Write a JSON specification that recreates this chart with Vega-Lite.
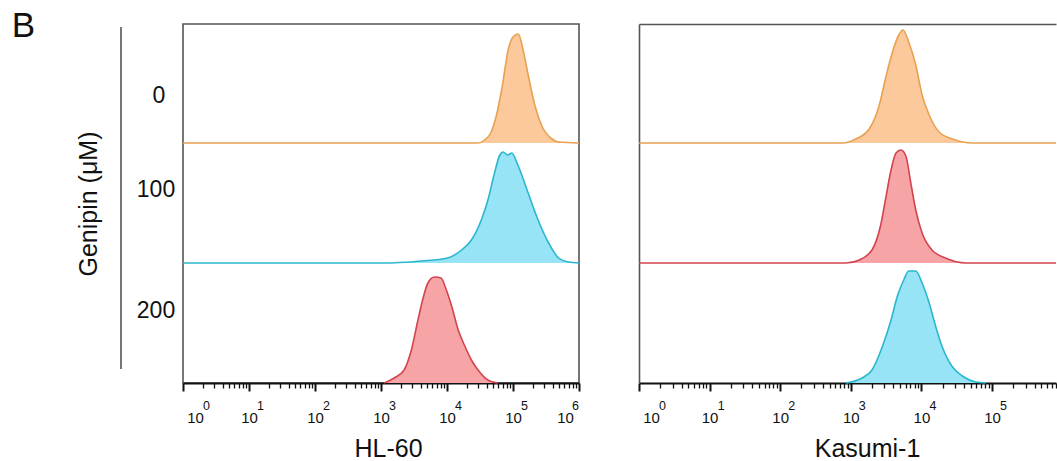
{
  "$schema": "https://vega.github.io/schema/vega-lite/v6.json",
  "background": "white",
  "padding": {"left": 0, "top": 8, "right": 0, "bottom": 0},
  "bounds": "flush",
  "spacing": 60,
  "config": {
    "view": {"stroke": "#555", "strokeWidth": 1.6},
    "text": {"font": "Liberation Sans", "color": "#111"}
  },
  "resolve": {"scale": {"fill": "independent", "stroke": "independent"}},
  "data": {"values": [
    {"cell": "HL-60", "dose": "0", "x": 1, "y": 240, "y0": 240},
    {"cell": "HL-60", "dose": "0", "x": 29510, "y": 240, "y0": 240},
    {"cell": "HL-60", "dose": "0", "x": 37150, "y": 243, "y0": 240},
    {"cell": "HL-60", "dose": "0", "x": 46770, "y": 251, "y0": 240},
    {"cell": "HL-60", "dose": "0", "x": 56230, "y": 268, "y0": 240},
    {"cell": "HL-60", "dose": "0", "x": 67610, "y": 294, "y0": 240},
    {"cell": "HL-60", "dose": "0", "x": 85110, "y": 334, "y0": 240},
    {"cell": "HL-60", "dose": "0", "x": 100000, "y": 346, "y0": 240},
    {"cell": "HL-60", "dose": "0", "x": 120200, "y": 349, "y0": 240},
    {"cell": "HL-60", "dose": "0", "x": 144500, "y": 331, "y0": 240},
    {"cell": "HL-60", "dose": "0", "x": 169800, "y": 308, "y0": 240},
    {"cell": "HL-60", "dose": "0", "x": 213800, "y": 278, "y0": 240},
    {"cell": "HL-60", "dose": "0", "x": 269200, "y": 258, "y0": 240},
    {"cell": "HL-60", "dose": "0", "x": 389000, "y": 244, "y0": 240},
    {"cell": "HL-60", "dose": "0", "x": 489800, "y": 241, "y0": 240},
    {"cell": "HL-60", "dose": "0", "x": 1000000, "y": 240, "y0": 240},

    {"cell": "HL-60", "dose": "100", "x": 1, "y": 120, "y0": 120},
    {"cell": "HL-60", "dose": "100", "x": 1000, "y": 120, "y0": 120},
    {"cell": "HL-60", "dose": "100", "x": 4074, "y": 122, "y0": 120},
    {"cell": "HL-60", "dose": "100", "x": 10230, "y": 125, "y0": 120},
    {"cell": "HL-60", "dose": "100", "x": 16600, "y": 133, "y0": 120},
    {"cell": "HL-60", "dose": "100", "x": 23440, "y": 143, "y0": 120},
    {"cell": "HL-60", "dose": "100", "x": 33110, "y": 163, "y0": 120},
    {"cell": "HL-60", "dose": "100", "x": 41690, "y": 183, "y0": 120},
    {"cell": "HL-60", "dose": "100", "x": 52480, "y": 210, "y0": 120},
    {"cell": "HL-60", "dose": "100", "x": 63100, "y": 228, "y0": 120},
    {"cell": "HL-60", "dose": "100", "x": 70790, "y": 231, "y0": 120},
    {"cell": "HL-60", "dose": "100", "x": 83180, "y": 228, "y0": 120},
    {"cell": "HL-60", "dose": "100", "x": 95500, "y": 230, "y0": 120},
    {"cell": "HL-60", "dose": "100", "x": 120200, "y": 217, "y0": 120},
    {"cell": "HL-60", "dose": "100", "x": 169800, "y": 190, "y0": 120},
    {"cell": "HL-60", "dose": "100", "x": 239900, "y": 163, "y0": 120},
    {"cell": "HL-60", "dose": "100", "x": 346700, "y": 140, "y0": 120},
    {"cell": "HL-60", "dose": "100", "x": 489800, "y": 125, "y0": 120},
    {"cell": "HL-60", "dose": "100", "x": 691800, "y": 121, "y0": 120},
    {"cell": "HL-60", "dose": "100", "x": 1000000, "y": 120, "y0": 120},

    {"cell": "HL-60", "dose": "200", "x": 1122, "y": 0, "y0": 0},
    {"cell": "HL-60", "dose": "200", "x": 1585, "y": 5, "y0": 0},
    {"cell": "HL-60", "dose": "200", "x": 2239, "y": 13, "y0": 0},
    {"cell": "HL-60", "dose": "200", "x": 2884, "y": 33, "y0": 0},
    {"cell": "HL-60", "dose": "200", "x": 3631, "y": 63, "y0": 0},
    {"cell": "HL-60", "dose": "200", "x": 4266, "y": 83, "y0": 0},
    {"cell": "HL-60", "dose": "200", "x": 5129, "y": 100, "y0": 0},
    {"cell": "HL-60", "dose": "200", "x": 6457, "y": 106, "y0": 0},
    {"cell": "HL-60", "dose": "200", "x": 8128, "y": 105, "y0": 0},
    {"cell": "HL-60", "dose": "200", "x": 9772, "y": 93, "y0": 0},
    {"cell": "HL-60", "dose": "200", "x": 11750, "y": 77, "y0": 0},
    {"cell": "HL-60", "dose": "200", "x": 14790, "y": 53, "y0": 0},
    {"cell": "HL-60", "dose": "200", "x": 18620, "y": 37, "y0": 0},
    {"cell": "HL-60", "dose": "200", "x": 23440, "y": 23, "y0": 0},
    {"cell": "HL-60", "dose": "200", "x": 29510, "y": 13, "y0": 0},
    {"cell": "HL-60", "dose": "200", "x": 41690, "y": 3, "y0": 0},
    {"cell": "HL-60", "dose": "200", "x": 58880, "y": 0, "y0": 0},

    {"cell": "Kasumi-1", "dose": "0", "x": 1, "y": 240, "y0": 240},
    {"cell": "Kasumi-1", "dose": "0", "x": 758.6, "y": 240, "y0": 240},
    {"cell": "Kasumi-1", "dose": "0", "x": 1175, "y": 244, "y0": 240},
    {"cell": "Kasumi-1", "dose": "0", "x": 1820, "y": 254, "y0": 240},
    {"cell": "Kasumi-1", "dose": "0", "x": 2512, "y": 277, "y0": 240},
    {"cell": "Kasumi-1", "dose": "0", "x": 3090, "y": 304, "y0": 240},
    {"cell": "Kasumi-1", "dose": "0", "x": 3890, "y": 331, "y0": 240},
    {"cell": "Kasumi-1", "dose": "0", "x": 4786, "y": 348, "y0": 240},
    {"cell": "Kasumi-1", "dose": "0", "x": 5495, "y": 353, "y0": 240},
    {"cell": "Kasumi-1", "dose": "0", "x": 6607, "y": 341, "y0": 240},
    {"cell": "Kasumi-1", "dose": "0", "x": 8318, "y": 318, "y0": 240},
    {"cell": "Kasumi-1", "dose": "0", "x": 10230, "y": 288, "y0": 240},
    {"cell": "Kasumi-1", "dose": "0", "x": 12880, "y": 268, "y0": 240},
    {"cell": "Kasumi-1", "dose": "0", "x": 17780, "y": 251, "y0": 240},
    {"cell": "Kasumi-1", "dose": "0", "x": 27540, "y": 244, "y0": 240},
    {"cell": "Kasumi-1", "dose": "0", "x": 52480, "y": 240, "y0": 240},
    {"cell": "Kasumi-1", "dose": "0", "x": 806000, "y": 240, "y0": 240},

    {"cell": "Kasumi-1", "dose": "100", "x": 1, "y": 120, "y0": 120},
    {"cell": "Kasumi-1", "dose": "100", "x": 851, "y": 120, "y0": 120},
    {"cell": "Kasumi-1", "dose": "100", "x": 1318, "y": 123, "y0": 120},
    {"cell": "Kasumi-1", "dose": "100", "x": 1995, "y": 133, "y0": 120},
    {"cell": "Kasumi-1", "dose": "100", "x": 2630, "y": 157, "y0": 120},
    {"cell": "Kasumi-1", "dose": "100", "x": 3090, "y": 183, "y0": 120},
    {"cell": "Kasumi-1", "dose": "100", "x": 3715, "y": 213, "y0": 120},
    {"cell": "Kasumi-1", "dose": "100", "x": 4365, "y": 230, "y0": 120},
    {"cell": "Kasumi-1", "dose": "100", "x": 5129, "y": 233, "y0": 120},
    {"cell": "Kasumi-1", "dose": "100", "x": 6026, "y": 227, "y0": 120},
    {"cell": "Kasumi-1", "dose": "100", "x": 7079, "y": 200, "y0": 120},
    {"cell": "Kasumi-1", "dose": "100", "x": 8318, "y": 173, "y0": 120},
    {"cell": "Kasumi-1", "dose": "100", "x": 10230, "y": 150, "y0": 120},
    {"cell": "Kasumi-1", "dose": "100", "x": 14130, "y": 133, "y0": 120},
    {"cell": "Kasumi-1", "dose": "100", "x": 21880, "y": 125, "y0": 120},
    {"cell": "Kasumi-1", "dose": "100", "x": 42660, "y": 120, "y0": 120},
    {"cell": "Kasumi-1", "dose": "100", "x": 806000, "y": 120, "y0": 120},

    {"cell": "Kasumi-1", "dose": "200", "x": 851, "y": 0, "y0": 0},
    {"cell": "Kasumi-1", "dose": "200", "x": 1445, "y": 5, "y0": 0},
    {"cell": "Kasumi-1", "dose": "200", "x": 1995, "y": 13, "y0": 0},
    {"cell": "Kasumi-1", "dose": "200", "x": 2818, "y": 37, "y0": 0},
    {"cell": "Kasumi-1", "dose": "200", "x": 3715, "y": 63, "y0": 0},
    {"cell": "Kasumi-1", "dose": "200", "x": 4571, "y": 87, "y0": 0},
    {"cell": "Kasumi-1", "dose": "200", "x": 5623, "y": 103, "y0": 0},
    {"cell": "Kasumi-1", "dose": "200", "x": 6607, "y": 112, "y0": 0},
    {"cell": "Kasumi-1", "dose": "200", "x": 8318, "y": 112, "y0": 0},
    {"cell": "Kasumi-1", "dose": "200", "x": 10230, "y": 100, "y0": 0},
    {"cell": "Kasumi-1", "dose": "200", "x": 12880, "y": 80, "y0": 0},
    {"cell": "Kasumi-1", "dose": "200", "x": 15850, "y": 57, "y0": 0},
    {"cell": "Kasumi-1", "dose": "200", "x": 19500, "y": 37, "y0": 0},
    {"cell": "Kasumi-1", "dose": "200", "x": 26920, "y": 17, "y0": 0},
    {"cell": "Kasumi-1", "dose": "200", "x": 38020, "y": 7, "y0": 0},
    {"cell": "Kasumi-1", "dose": "200", "x": 58880, "y": 1, "y0": 0},
    {"cell": "Kasumi-1", "dose": "200", "x": 81280, "y": 0, "y0": 0}
  ]},
  "hconcat": [
    {
      "width": 122,
      "height": 359,
      "view": {"stroke": "transparent"},
      "data": {"values": [{}]},
      "layer": [
        {"mark": {"type": "rule", "stroke": "#555", "strokeWidth": 1.6},
         "encoding": {
           "x": {"datum": 120, "type": "quantitative", "scale": {"domain": [0, 122], "nice": false, "zero": false}, "axis": null},
           "y": {"datum": 14, "type": "quantitative", "scale": {"domain": [0, 359], "nice": false, "zero": false}, "axis": null},
           "y2": {"datum": 356}
         }},
        {"mark": {"type": "text", "text": "B", "fontSize": 35, "align": "center", "baseline": "middle"},
         "encoding": {"x": {"datum": 22.5, "type": "quantitative"}, "y": {"datum": 357, "type": "quantitative"}}},
        {"mark": {"type": "text", "text": "Genipin (μM)", "fontSize": 25, "align": "center", "baseline": "middle", "angle": 270},
         "encoding": {"x": {"datum": 88, "type": "quantitative"}, "y": {"datum": 179, "type": "quantitative"}}},
        {"mark": {"type": "text", "text": "0", "fontSize": 23, "align": "center", "baseline": "middle"},
         "encoding": {"x": {"datum": 158, "type": "quantitative"}, "y": {"datum": 287, "type": "quantitative"}}},
        {"mark": {"type": "text", "text": "100", "fontSize": 23, "align": "center", "baseline": "middle"},
         "encoding": {"x": {"datum": 155, "type": "quantitative"}, "y": {"datum": 193, "type": "quantitative"}}},
        {"mark": {"type": "text", "text": "200", "fontSize": 23, "align": "center", "baseline": "middle"},
         "encoding": {"x": {"datum": 155, "type": "quantitative"}, "y": {"datum": 72, "type": "quantitative"}}}
      ]
    },
    {
      "width": 396,
      "height": 359,
      "transform": [{"filter": "datum.cell == 'HL-60'"}],
      "layer": [
        {
          "mark": {"type": "area", "interpolate": "monotone", "fillOpacity": 1},
          "encoding": {
            "x": {"field": "x", "type": "quantitative",
                  "scale": {"type": "log", "domain": [1, 1000000], "nice": false},
                  "axis": {
                    "orient": "bottom",
                    "values": [1,2,3,4,5,6,7,8,9,10,20,30,40,50,60,70,80,90,100,200,300,400,500,600,700,800,900,1000,2000,3000,4000,5000,6000,7000,8000,9000,10000,20000,30000,40000,50000,60000,70000,80000,90000,100000,200000,300000,400000,500000,600000,700000,800000,900000,1000000],
                    "title": "HL-60", "titleFont": "Liberation Sans", "titleFontSize": 25, "titleFontWeight": "normal", "titleColor": "#111", "titlePadding": 11, "titleX": 205,
                    "labelExpr": "abs(log(datum.value)/LN10 - round(log(datum.value)/LN10)) < 0.01 ? '10' : ''",
                    "labelFont": "Liberation Sans", "labelFontSize": 15, "labelColor": "#111", "labelPadding": 19,
                    "labelFlush": false, "labelOverlap": false, "labelBound": false,
                    "labelOffset": {"condition": [{"test": "datum.value < 1.5", "value": 12}, {"test": "datum.value > 999000", "value": -14}], "value": 0},
                    "tickSize": {"condition": {"test": "abs(log(datum.value)/LN10 - round(log(datum.value)/LN10)) < 0.01", "value": 8}, "value": 5},
                    "tickWidth": {"condition": {"test": "abs(log(datum.value)/LN10 - round(log(datum.value)/LN10)) < 0.01", "value": 2}, "value": 1.3},
                    "tickColor": "#111", "domainColor": "#111", "domainWidth": 2, "grid": false
                  }},
            "y": {"field": "y", "type": "quantitative", "scale": {"domain": [0, 359], "nice": false, "zero": false}, "axis": null},
            "y2": {"field": "y0"},
            "fill": {"field": "dose", "type": "nominal", "scale": {"domain": ["0", "100", "200"], "range": ["#FBC99B", "#98E4F7", "#F6A4A6"]}, "legend": null}
          }
        },
        {
          "mark": {"type": "line", "interpolate": "monotone", "strokeWidth": 1.6},
          "encoding": {
            "x": {"field": "x", "type": "quantitative",
                  "axis": {
                    "orient": "bottom",
                    "values": [1, 10, 100, 1000, 10000, 100000, 1000000],
                    "title": null, "domain": false, "ticks": false, "tickSize": 0, "grid": false,
                    "labelExpr": "'' + round(log(datum.value)/LN10)",
                    "labelFont": "Liberation Sans", "labelFontSize": 12.5, "labelColor": "#111", "labelPadding": 16,
                    "labelFlush": false, "labelOverlap": false, "labelBound": false,
                    "labelOffset": {"condition": [{"test": "datum.value < 1.5", "value": 23}, {"test": "datum.value > 999000", "value": -4}], "value": 11}
                  }},
            "y": {"field": "y", "type": "quantitative"},
            "stroke": {"field": "dose", "type": "nominal", "scale": {"domain": ["0", "100", "200"], "range": ["#E9A050", "#2BB6CF", "#D2444F"]}, "legend": null}
          }
        }
      ],
      "resolve": {"axis": {"x": "independent"}}
    },
    {
      "width": 417,
      "height": 359,
      "view": {"stroke": null},
      "transform": [{"filter": "datum.cell == 'Kasumi-1'"}],
      "layer": [
        {
          "mark": {"type": "area", "interpolate": "monotone", "fillOpacity": 1},
          "encoding": {
            "x": {"field": "x", "type": "quantitative",
                  "scale": {"type": "log", "domain": [1, 806000], "nice": false},
                  "axis": {
                    "orient": "bottom",
                    "values": [1,2,3,4,5,6,7,8,9,10,20,30,40,50,60,70,80,90,100,200,300,400,500,600,700,800,900,1000,2000,3000,4000,5000,6000,7000,8000,9000,10000,20000,30000,40000,50000,60000,70000,80000,90000,100000,200000,300000,400000,500000,600000,700000,800000],
                    "title": "Kasumi-1", "titleFont": "Liberation Sans", "titleFontSize": 25, "titleFontWeight": "normal", "titleColor": "#111", "titlePadding": 11, "titleX": 228,
                    "labelExpr": "abs(log(datum.value)/LN10 - round(log(datum.value)/LN10)) < 0.01 ? '10' : ''",
                    "labelFont": "Liberation Sans", "labelFontSize": 15, "labelColor": "#111", "labelPadding": 19,
                    "labelFlush": false, "labelOverlap": false, "labelBound": false,
                    "labelOffset": {"condition": {"test": "datum.value < 1.5", "value": 12}, "value": 0},
                    "tickSize": {"condition": {"test": "abs(log(datum.value)/LN10 - round(log(datum.value)/LN10)) < 0.01", "value": 8}, "value": 5},
                    "tickWidth": {"condition": {"test": "abs(log(datum.value)/LN10 - round(log(datum.value)/LN10)) < 0.01", "value": 2}, "value": 1.3},
                    "tickColor": "#111", "domainColor": "#111", "domainWidth": 2, "grid": false
                  }},
            "y": {"field": "y", "type": "quantitative", "scale": {"domain": [0, 359], "nice": false, "zero": false},
                  "axis": {"orient": "left", "values": [359], "grid": true, "gridColor": "#555", "gridWidth": 1.6, "gridOpacity": 1,
                           "domain": true, "domainColor": "#555", "domainWidth": 1.6, "ticks": false, "labels": false, "title": null}},
            "y2": {"field": "y0"},
            "fill": {"field": "dose", "type": "nominal", "scale": {"domain": ["0", "100", "200"], "range": ["#FBC99B", "#F6A4A6", "#98E4F7"]}, "legend": null}
          }
        },
        {
          "mark": {"type": "line", "interpolate": "monotone", "strokeWidth": 1.6},
          "encoding": {
            "x": {"field": "x", "type": "quantitative",
                  "axis": {
                    "orient": "bottom",
                    "values": [1, 10, 100, 1000, 10000, 100000],
                    "title": null, "domain": false, "ticks": false, "tickSize": 0, "grid": false,
                    "labelExpr": "'' + round(log(datum.value)/LN10)",
                    "labelFont": "Liberation Sans", "labelFontSize": 12.5, "labelColor": "#111", "labelPadding": 16,
                    "labelFlush": false, "labelOverlap": false, "labelBound": false,
                    "labelOffset": {"condition": {"test": "datum.value < 1.5", "value": 23}, "value": 11}
                  }},
            "y": {"field": "y", "type": "quantitative"},
            "stroke": {"field": "dose", "type": "nominal", "scale": {"domain": ["0", "100", "200"], "range": ["#E9A050", "#D2444F", "#2BB6CF"]}, "legend": null}
          }
        }
      ],
      "resolve": {"axis": {"x": "independent"}}
    }
  ]
}
